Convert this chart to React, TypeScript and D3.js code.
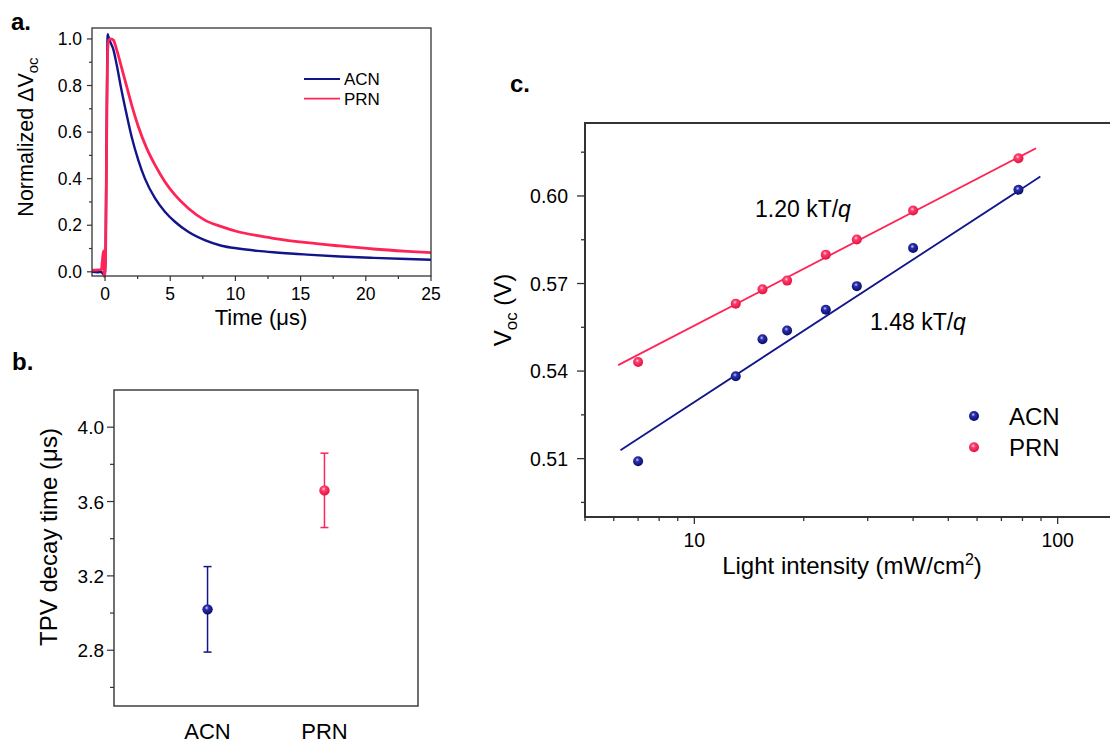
import React from 'react';
import * as d3 from 'd3';

// panel a: TPV traces (time in µs, normalized ΔVoc)
const acnTrace: [number, number][] = [
  [-1, 0.0], [-0.6, -0.002], [-0.3, 0.0], [-0.12, -0.01], [0.0, 0.0], [0.05, 0.12],
  [0.12, 0.6], [0.2, 1.02], [0.26, 1.01], [0.38, 0.99], [0.64, 0.954], [0.89, 0.89],
  [1.28, 0.775], [1.66, 0.674], [2.04, 0.58], [2.55, 0.48], [3.06, 0.4], [3.83, 0.316],
  [4.59, 0.258], [5.36, 0.215], [6.38, 0.172], [7.65, 0.136], [8.93, 0.112], [10.2, 0.1],
  [11.7, 0.09], [12.9, 0.084], [15.5, 0.074], [18.0, 0.066], [20.6, 0.06], [23.2, 0.055],
  [25, 0.052],
];
const prnTrace: [number, number][] = [
  [-1, 0.007], [-0.5, 0.008], [-0.28, 0.01], [-0.2, 0.05], [-0.12, 0.09], [-0.06, -0.02],
  [0.04, 0.05], [0.12, 0.55], [0.2, 0.95], [0.3, 0.997], [0.45, 1.0], [0.64, 0.995],
  [0.89, 0.954], [1.28, 0.875], [1.66, 0.796], [2.04, 0.717], [2.55, 0.624], [3.19, 0.531],
  [3.83, 0.459], [4.59, 0.387], [5.36, 0.33], [6.38, 0.273], [7.65, 0.222], [8.93, 0.194],
  [10.2, 0.172], [11.7, 0.155], [12.9, 0.144], [15.5, 0.125], [18.0, 0.111], [20.6, 0.098],
  [23.2, 0.088], [25, 0.082],
];
const timeTicks = [0, 5, 10, 15, 20, 25];
const voltTicks = [0, 0.2, 0.4, 0.6, 0.8, 1.0];

// panel b: decay times
const solvents = ['ACN', 'PRN'];
const decayTime = [3.02, 3.66];
const decayErr = [0.23, 0.2];
const decayTicks = [2.8, 3.2, 3.6, 4.0];

// panel c: Voc vs light intensity
const intensity = [7, 13, 15.4, 18, 23, 28, 40, 78];
const vocACN = [0.5091, 0.5382, 0.5509, 0.5539, 0.561, 0.5691, 0.5822, 0.6021];
const vocPRN = [0.5431, 0.5631, 0.568, 0.571, 0.5799, 0.5851, 0.595, 0.6129];
const fitACN = { slope: 0.0811, intercept: 0.4483, from: 6.26, to: 89.6, label: '1.48 kT/' };
const fitPRN = { slope: 0.0646, intercept: 0.491, from: 6.17, to: 87.2, label: '1.20 kT/' };
const vocTicks = [0.51, 0.54, 0.57, 0.6];
const vocMinor = [0.495, 0.525, 0.555, 0.585, 0.615];

const BLUE = '#12158a';
const RED = '#ff2458';
const FONT = 'Liberation Sans, Arial, sans-serif';
const AXIS = '#333';

const App = () => {
  // ---- panel a
  const xa = d3.scaleLinear().domain([-1, 25]).range([92, 431]);
  const ya = d3.scaleLinear().domain([-0.018, 1.047]).range([276, 28]);
  const line = d3.line<[number, number]>().x((d) => xa(d[0])).y((d) => ya(d[1])).curve(d3.curveMonotoneX);

  // ---- panel b
  const xb = d3.scaleLinear().domain([0.2, 2.8]).range([114, 418]);
  const yb = d3.scaleLinear().domain([2.5, 4.2]).range([706, 390]);

  // ---- panel c
  const xc = d3.scaleLog().domain([5, 200]).range([585, 585 + 363.3 * Math.log10(40)]);
  const yc = d3.scaleLinear().domain([0.49, 0.625]).range([517, 123]);
  const fitPath = (f: typeof fitACN) =>
    d3.line<number>().x((d) => xc(d)).y((d) => yc(f.intercept + f.slope * Math.log10(d)))([f.from, f.to]);

  const ball = (cx: number, cy: number, r: number, id: string, key?: string | number) => (
    <circle key={key} cx={cx} cy={cy} r={r} fill={`url(#${id})`} />
  );

  return (
    <svg width={1110} height={744} style={{ position: 'absolute', left: 0, top: 0 }} fontFamily={FONT}>
      <defs>
        <radialGradient id="ballBlue" cx="42%" cy="36%" r="65%">
          <stop offset="0%" stopColor="#c8ccff" />
          <stop offset="30%" stopColor="#2a2fa8" />
          <stop offset="100%" stopColor="#070a6a" />
        </radialGradient>
        <radialGradient id="ballRed" cx="42%" cy="36%" r="65%">
          <stop offset="0%" stopColor="#ffd6e0" />
          <stop offset="30%" stopColor="#ff3d6b" />
          <stop offset="100%" stopColor="#e0103f" />
        </radialGradient>
      </defs>

      {/* ===== panel a ===== */}
      <text x={11} y={30} fontSize={24} fontWeight="bold">a.</text>
      <path d={line(acnTrace) ?? ''} fill="none" stroke={BLUE} strokeWidth={2.4} />
      <path d={line(prnTrace) ?? ''} fill="none" stroke={RED} strokeWidth={2.8} />
      <rect x={92} y={28} width={339} height={248} fill="none" stroke={AXIS} strokeWidth={1.3} />
      {timeTicks.map((t) => (
        <g key={t}>
          <line x1={xa(t)} x2={xa(t)} y1={276} y2={281} stroke={AXIS} strokeWidth={1.2} />
          <text x={xa(t)} y={300} fontSize={17.5} textAnchor="middle">{t}</text>
        </g>
      ))}
      {d3.range(2.5, 25, 5).map((t) => (
        <line key={t} x1={xa(t)} x2={xa(t)} y1={276} y2={279} stroke={AXIS} strokeWidth={1.2} />
      ))}
      {voltTicks.map((v) => (
        <g key={v}>
          <line x1={87} x2={92} y1={ya(v)} y2={ya(v)} stroke={AXIS} strokeWidth={1.2} />
          <text x={82} y={ya(v) + 6} fontSize={17.5} textAnchor="end">{v.toFixed(1)}</text>
        </g>
      ))}
      {d3.range(0.1, 1.0, 0.2).map((v) => (
        <line key={v} x1={89} x2={92} y1={ya(v)} y2={ya(v)} stroke={AXIS} strokeWidth={1.2} />
      ))}
      <text x={261} y={325} fontSize={22} textAnchor="middle">Time (μs)</text>
      <text transform="translate(33,137) rotate(-90)" fontSize={21.5} textAnchor="middle">
        Normalized ΔV<tspan dy={5} fontSize={15}>oc</tspan>
      </text>
      {[{ name: 'ACN', c: BLUE, y: 79 }, { name: 'PRN', c: RED, y: 98.7 }].map((d) => (
        <g key={d.name}>
          <line x1={304} x2={340} y1={d.y} y2={d.y} stroke={d.c} strokeWidth={1.8} />
          <text x={344} y={d.y + 6} fontSize={17}>{d.name}</text>
        </g>
      ))}

      {/* ===== panel b ===== */}
      <text x={12} y={370} fontSize={24} fontWeight="bold">b.</text>
      <rect x={114} y={390} width={304} height={316} fill="none" stroke={AXIS} strokeWidth={1.4} />
      {decayTicks.map((v) => (
        <g key={v}>
          <line x1={107} x2={114} y1={yb(v)} y2={yb(v)} stroke={AXIS} strokeWidth={1.2} />
          <text x={104} y={yb(v) + 7} fontSize={19} textAnchor="end">{v.toFixed(1)}</text>
        </g>
      ))}
      {[2.6, 3.0, 3.4, 3.8].map((v) => (
        <line key={v} x1={110} x2={114} y1={yb(v)} y2={yb(v)} stroke={AXIS} strokeWidth={1.2} />
      ))}
      {solvents.map((s, i) => {
        const cx = xb(i + 1);
        const c = i === 0 ? BLUE : RED;
        return (
          <g key={s}>
            <line x1={cx} x2={cx} y1={yb(decayTime[i] + decayErr[i])} y2={yb(decayTime[i] - decayErr[i])} stroke={c} strokeWidth={1.5} />
            <line x1={cx - 4} x2={cx + 4} y1={yb(decayTime[i] + decayErr[i])} y2={yb(decayTime[i] + decayErr[i])} stroke={c} strokeWidth={1.5} />
            <line x1={cx - 4} x2={cx + 4} y1={yb(decayTime[i] - decayErr[i])} y2={yb(decayTime[i] - decayErr[i])} stroke={c} strokeWidth={1.5} />
            {ball(cx, yb(decayTime[i]), 5.2, i === 0 ? 'ballBlue' : 'ballRed')}
            <text x={cx} y={739} fontSize={22} textAnchor="middle">{s}</text>
          </g>
        );
      })}
      <text transform="translate(57,537) rotate(-90)" fontSize={24} textAnchor="middle">TPV decay time (μs)</text>

      {/* ===== panel c ===== */}
      <text x={510} y={92} fontSize={24} fontWeight="bold">c.</text>
      <path d={fitPath(fitPRN) ?? ''} stroke={RED} strokeWidth={1.8} fill="none" />
      <path d={fitPath(fitACN) ?? ''} stroke={BLUE} strokeWidth={1.8} fill="none" />
      {intensity.map((x, i) => ball(xc(x), yc(vocPRN[i]), 5, 'ballRed', 'p' + i))}
      {intensity.map((x, i) => ball(xc(x), yc(vocACN[i]), 5, 'ballBlue', 'a' + i))}
      <path d={`M${xc(200)},123H585V517H${xc(200)}`} fill="none" stroke={AXIS} strokeWidth={2} />
      {xc.ticks().map((t) => {
        const major = Math.abs(Math.log10(t) - Math.round(Math.log10(t))) < 1e-9;
        return (
          <g key={t}>
            <line x1={xc(t)} x2={xc(t)} y1={517} y2={major ? 524 : 521} stroke={AXIS} strokeWidth={1.3} />
            {major && <text x={xc(t)} y={547} fontSize={19.5} textAnchor="middle">{t}</text>}
          </g>
        );
      })}
      {vocTicks.map((v) => (
        <g key={v}>
          <line x1={577} x2={585} y1={yc(v)} y2={yc(v)} stroke={AXIS} strokeWidth={1.3} />
          <text x={568} y={yc(v) + 7} fontSize={19.5} textAnchor="end">{v.toFixed(2)}</text>
        </g>
      ))}
      {vocMinor.map((v) => (
        <line key={v} x1={581} x2={585} y1={yc(v)} y2={yc(v)} stroke={AXIS} strokeWidth={1.3} />
      ))}
      <text x={755} y={217} fontSize={23}>
        {fitPRN.label}<tspan fontStyle="italic">q</tspan>
      </text>
      <text x={870} y={330} fontSize={23}>
        {fitACN.label}<tspan fontStyle="italic">q</tspan>
      </text>
      {[{ name: 'ACN', id: 'ballBlue', y: 416 }, { name: 'PRN', id: 'ballRed', y: 447.3 }].map((d) => (
        <g key={d.name}>
          {ball(974, d.y, 5, d.id)}
          <text x={1009} y={d.y + 9} fontSize={24}>{d.name}</text>
        </g>
      ))}
      <text x={852} y={574} fontSize={24} textAnchor="middle">
        Light intensity (mW/cm<tspan dy={-9} fontSize={16}>2</tspan><tspan dy={9}>)</tspan>
      </text>
      <text transform="translate(511,310) rotate(-90)" fontSize={24} textAnchor="middle">
        V<tspan dy={6} fontSize={17}>oc</tspan><tspan dy={-6}> (V)</tspan>
      </text>
    </svg>
  );
};

export default App;
